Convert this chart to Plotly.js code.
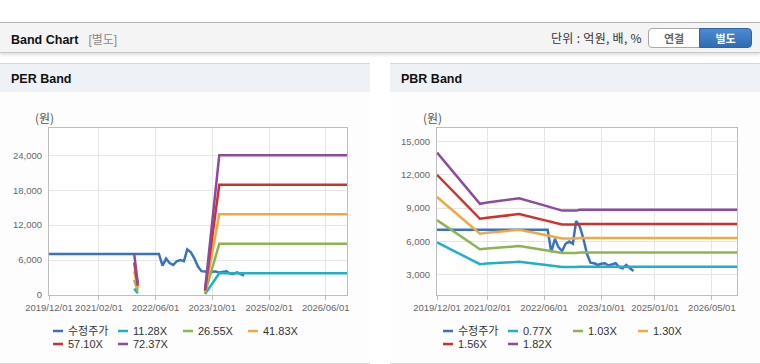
<!DOCTYPE html>
<html><head><meta charset="utf-8">
<script src="https://cdn.plot.ly/plotly-3.0.1.min.js"></script>
<style>
body{margin:0;width:760px;height:364px;overflow:hidden;background:#fff;position:relative;font-family:"Liberation Sans","Noto Sans CJK KR",Arial,sans-serif}
#topbar{position:absolute;left:0;top:22px;width:760px;height:29px;background:#f4f4f4;border-top:1px solid #b4b4b4;border-bottom:1px solid #c8c8c8;box-shadow:0 2px 3px rgba(0,0,0,0.13)}
#ttl{position:absolute;left:11px;top:7px;font-size:12.5px;font-weight:bold;color:#111}
#ttl span{font-weight:normal;color:#8a8a8a;margin-left:10px;font-size:12px}
#unit{position:absolute;left:551px;top:8px;font-size:12px;color:#333;font-family:"Noto Sans CJK KR","Liberation Sans",sans-serif;line-height:13px;letter-spacing:0.3px}
.btn{position:absolute;top:5px;height:18px;width:50px;font-size:11px;font-weight:bold;text-align:center;line-height:18px;font-family:"Noto Sans CJK KR",sans-serif}
#b1{left:648px;background:#fff;border:1px solid #a9a9a9;border-radius:4px 0 0 4px;color:#666}
#b2{left:699px;width:51px;background:linear-gradient(#4c8bd0,#2e6db3);border:1px solid #2e64a6;border-radius:0 4px 4px 0;color:#fff}
.panel{position:absolute;top:63px;width:370px;height:299px;border-top:1px solid #d6d6d6;border-bottom:1px solid #d6d6d6;background:#fdfdfd}
.ph{position:absolute;left:0;top:0;width:100%;height:28px;background:#eef1f6}
.ph div{position:absolute;left:11px;top:8px;font-size:12.5px;font-weight:bold;color:#111}
.chart{position:absolute;left:0;top:29px;width:370px;height:269px}
</style></head>
<body>
<div id="topbar"><div id="ttl">Band Chart<span>[별도]</span></div>
<div id="unit">단위 : 억원, 배, %</div>
<div class="btn" id="b1">연결</div><div class="btn" id="b2">별도</div></div>
<div class="panel" style="left:0"><div class="ph"><div>PER Band</div></div><div class="chart" id="per"></div></div>
<div class="panel" style="left:390px"><div class="ph"><div>PBR Band</div></div><div class="chart" id="pbr"></div></div>
<script>
// ---- data ----
const priceName = '수정주가';
const priceDates = ['2019-12-01','2022-07-01','2022-08-01','2022-09-01','2022-10-01','2022-11-01','2022-12-01','2023-01-01','2023-02-01','2023-03-01','2023-04-01','2023-05-01','2023-06-01','2023-07-01','2023-08-01','2023-09-01','2023-10-01','2023-11-01','2023-12-01','2024-01-01','2024-02-01','2024-03-01','2024-04-01','2024-05-01','2024-06-01','2024-07-01'];
const priceValues = [7050,7050,5050,6250,5500,5150,5800,6000,5800,7850,7350,6300,4900,4100,4050,3900,4000,4050,3850,3950,4050,3700,3600,3900,3650,3350];

const perNames = ['11.28X','26.55X','41.83X','57.10X','72.37X'];
const perDates = ['2021-12-01','2022-01-01','2022-02-01','2023-08-01','2023-12-01','2026-12-01'];
const per1128 = [1099, 316, null, 147, 3741, 3741];
const per2655 = [2586, 743, null, 345, 8804, 8804];
const per4183 = [4074, 1171, null, 544, 13871, 13871];
const per5710 = [5562, 1599, null, 742, 18935, 18935];
const per7237 = [7050, 2026, null, 941, 24000, 24000];

const pbrNames = ['0.77X','1.03X','1.30X','1.56X','1.82X'];
const pbrDates = ['2019-12-01','2020-12-01','2021-02-01','2021-11-01','2022-06-01','2022-11-01','2023-03-01','2023-04-01','2026-12-01'];
const pbr077 = [5923, 3973, 4019, 4180, 3913, 3715, 3715, 3744, 3744];
const pbr103 = [7923, 5314, 5377, 5592, 5234, 4969, 4969, 5009, 5009];
const pbr130 = [10000, 6707, 6786, 7058, 6607, 6271, 6271, 6322, 6322];
const pbr156 = [12000, 8048, 8143, 8469, 7928, 7525, 7525, 7586, 7586];
const pbr182 = [14000, 9390, 9500, 9880, 9250, 8780, 8780, 8850, 8850];

const perTickVals = ['2019-12-01','2021-02-01','2022-06-01','2023-10-01','2025-02-01','2026-06-01'];
const perTickText = ['2019/12/01','2021/02/01','2022/06/01','2023/10/01','2025/02/01','2026/06/01'];
const pbrTickVals = ['2019-12-01','2021-02-01','2022-06-01','2023-10-01','2025-01-01','2026-05-01'];
const pbrTickText = ['2019/12/01','2021/02/01','2022/06/01','2023/10/01','2025/01/01','2026/05/01'];
const perYTicks = [0, 6000, 12000, 18000, 24000];
const pbrYTicks = [3000, 6000, 9000, 12000, 15000];
const yUnit = '(원)';

// ---- styling ----
const colors = ['#3a72c2','#1fb0c8','#8cb452','#f1a93f','#d1312c','#8e4a9c'];
const FONT = '"Liberation Sans", "Noto Sans CJK KR", Arial, sans-serif';
const W = 370, H = 269;

function build(div, bandNames, bandDates, bandSeries, tv, tt, yt, yrange, m, legX){
  const traces = [{x: priceDates, y: priceValues, name: priceName, type:'scatter', mode:'lines', line:{color:colors[0], width:2.5}}];
  bandSeries.forEach((s,i)=>traces.push({x: bandDates, y: s, name: bandNames[i], type:'scatter', mode:'lines', connectgaps:false, line:{color:colors[i+1], width:2.5}}));
  const pw = W - m.l - m.r, ph = H - m.t - m.b;
  const xp = px => (px - m.l)/pw, yp = py => (H - m.b - py)/ph;
  const names = [priceName].concat(bandNames);
  const shapes = [], ann = [];
  names.forEach((n,i)=>{
    const col = i%4, row = Math.floor(i/4);
    const x0 = legX + col*65, y0 = 238 + row*13;
    shapes.push({type:'line', xref:'paper', yref:'paper', x0:xp(x0), x1:xp(x0+10), y0:yp(y0), y1:yp(y0), line:{color:colors[i], width:2.5}});
    ann.push({xref:'paper', yref:'paper', x:xp(x0+12.5), y:yp(y0), xanchor:'left', yanchor:'middle', text:n, showarrow:false, font:{size:11, color:'#333', family:FONT}});
  });
  ann.push({xref:'paper', yref:'paper', x:xp(m.l-5), y:yp(25), xanchor:'center', yanchor:'middle', text:yUnit, showarrow:false, font:{size:12, color:'#555', family:'"Noto Sans CJK KR", sans-serif'}});
  const layout = {
    width: W, height: H, margin: m, showlegend:false,
    paper_bgcolor:'rgba(0,0,0,0)', plot_bgcolor:'#fff',
    font:{family:FONT, color:'#666'},
    xaxis:{type:'date', range:['2019-12-01','2026-12-01'], tickmode:'array', tickvals:tv, ticktext:tt,
      showgrid:true, gridcolor:'#e6e6e6', gridwidth:1, showline:true, linecolor:'#bdbdbd', linewidth:1, mirror:true,
      ticks:'outside', ticklen:4, tickcolor:'#bdbdbd', tickfont:{size:9.5, color:'#666', family:FONT}, zeroline:false, fixedrange:true},
    yaxis:{range:yrange, tickmode:'array', tickvals:yt, tickformat:',d', showgrid:true, gridcolor:'#e6e6e6', gridwidth:1,
      showline:true, linecolor:'#bdbdbd', linewidth:1, mirror:true, ticks:'', ticklabelstandoff:4,
      tickfont:{size:9.5, color:'#666', family:FONT}, zeroline:false, fixedrange:true},
    shapes: shapes, annotations: ann
  };
  Plotly.newPlot(div, traces, layout, {staticPlot:true, displayModeBar:false});
}

build('per', perNames, perDates, [per1128, per2655, per4183, per5710, per7237], perTickVals, perTickText, perYTicks, [0, 28700], {l:49, r:23, t:35, b:67, pad:0}, 53);
build('pbr', pbrNames, pbrDates, [pbr077, pbr103, pbr130, pbr156, pbr182], pbrTickVals, pbrTickText, pbrYTicks, [1200, 16200], {l:47, r:23, t:35, b:67, pad:0}, 53);
</script>
</body></html>
